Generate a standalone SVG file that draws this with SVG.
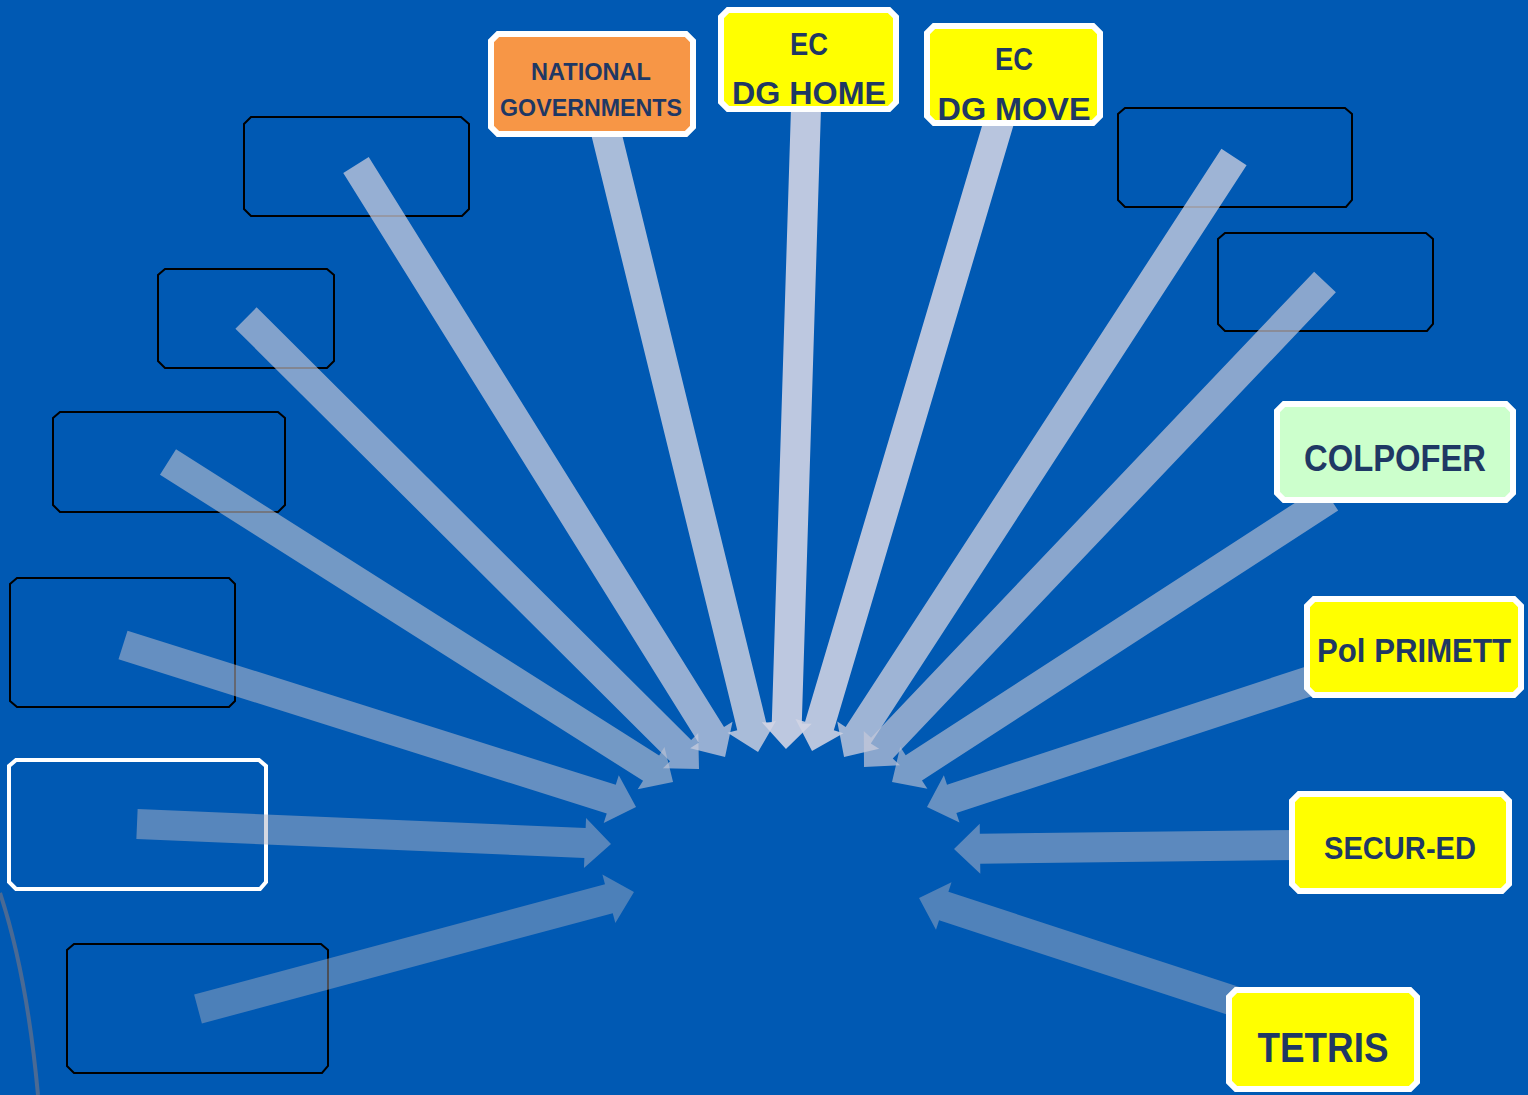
<svg xmlns="http://www.w3.org/2000/svg" width="1528" height="1095" viewBox="0 0 1528 1095">
<style>
.empty{fill:none;stroke:#000;stroke-width:2}
.emptyw{fill:none;stroke:#fff;stroke-width:4}
.lab{stroke:#fff;stroke-width:6}
.txt{font-family:"Liberation Sans",Arial,sans-serif;font-weight:bold;fill:#1F3864;text-anchor:middle}
</style>
<rect width="1528" height="1095" fill="#0059B3"/>
<path d="M0,893 Q27,975 38,1095" fill="none" stroke="#4A6A94" stroke-width="4"/>

<g id="empty-boxes">
<g id="box-l1"><path class="empty" d="M251,117 H461 L469,124 V209 L462,216 H251 L244,209 V124 Z"/></g>
<g id="box-l2"><path class="empty" d="M165,269 H327 L334,275 V361 L327,368 H165 L158,361 V275 Z"/></g>
<g id="box-l3"><path class="empty" d="M60,412 H278 L285,418 V505 L278,512 H60 L53,505 V418 Z"/></g>
<g id="box-l4"><path class="empty" d="M17,578 H229 L235,584 V701 L229,707 H17 L10,701 V584 Z"/></g>
<g id="box-l5"><path class="emptyw" d="M16,760 H259 L266,766 V882 L260,889 H16 L9,882 V766 Z"/></g>
<g id="box-l6"><path class="empty" d="M74,944 H321 L328,950 V1066 L322,1073 H74 L67,1066 V950 Z"/></g>
<g id="box-r1"><path class="empty" d="M1125,108 H1345 L1352,114 V200 L1346,207 H1125 L1118,200 V114 Z"/></g>
<g id="box-r2"><path class="empty" d="M1225,233 H1426 L1433,239 V324 L1427,331 H1225 L1218,324 V239 Z"/></g>
</g>

<g id="connectors">
<g transform="translate(198,1009) rotate(-15.02)" fill="#A9AFC0" fill-opacity="0.45"><path d="M0,-15 H425.4 V-25 L451.4,0 L425.4,25 V15 H0 Z"/></g>
<g transform="translate(137,824) rotate(2.42)" fill="#AEB4C6" fill-opacity="0.5"><path d="M0,-15 H448.4 V-25 L474.4,0 L448.4,25 V15 H0 Z"/></g>
<g transform="translate(123,645) rotate(17.52)" fill="#B4BACB" fill-opacity="0.56"><path d="M0,-15 H512 V-25 L538,0 L512,25 V15 H0 Z"/></g>
<g transform="translate(168,462) rotate(32.36)" fill="#BAC0D1" fill-opacity="0.62"><path d="M0,-15 H571.9 V-25 L597.9,0 L571.9,25 V15 H0 Z"/></g>
<g transform="translate(246,318) rotate(44.87)" fill="#C0C6D7" fill-opacity="0.68"><path d="M0,-15 H613.2 V-25 L639.2,0 L613.2,25 V15 H0 Z"/></g>
<g transform="translate(356,165) rotate(58.06)" fill="#C8CCDD" fill-opacity="0.75"><path d="M0,-15 H671.6 V-25 L697.6,0 L671.6,25 V15 H0 Z"/></g>
<g transform="translate(605,128) rotate(76.22)" fill="#CED2E2" fill-opacity="0.82"><path d="M0,-15 H616.5 V-25 L642.5,0 L616.5,25 V15 H0 Z"/></g>
<g transform="translate(806,108) rotate(91.79)" fill="#D2D4E4" fill-opacity="0.9"><path d="M0,-15 H615.3 V-25 L641.3,0 L615.3,25 V15 H0 Z"/></g>
<g transform="translate(1000,118) rotate(106.54)" fill="#D2D4E4" fill-opacity="0.88"><path d="M0,-15 H634.3 V-25 L660.3,0 L634.3,25 V15 H0 Z"/></g>
<g transform="translate(1234,157) rotate(123.02)" fill="#CACEDF" fill-opacity="0.78"><path d="M0,-15 H689.6 V-25 L715.6,0 L689.6,25 V15 H0 Z"/></g>
<g transform="translate(1325,282) rotate(133.55)" fill="#C4C8D9" fill-opacity="0.7"><path d="M0,-15 H643.1 V-25 L669.1,0 L643.1,25 V15 H0 Z"/></g>
<g transform="translate(1330,498) rotate(147.04)" fill="#BCC2D3" fill-opacity="0.64"><path d="M0,-15 H496 V-25 L522,0 L496,25 V15 H0 Z"/></g>
<g transform="translate(1310,681) rotate(161.79)" fill="#B6BCCD" fill-opacity="0.57"><path d="M0,-15 H377.2 V-25 L403.2,0 L377.2,25 V15 H0 Z"/></g>
<g transform="translate(1295,845) rotate(179.33)" fill="#B0B6C8" fill-opacity="0.52"><path d="M0,-15 H315 V-25 L341,0 L315,25 V15 H0 Z"/></g>
<g transform="translate(1240,1003) rotate(-161.89)" fill="#ABB1C2" fill-opacity="0.47"><path d="M0,-15 H311.7 V-25 L337.7,0 L311.7,25 V15 H0 Z"/></g>
</g>

<g id="node-national">
<path class="lab" fill="#F79646" d="M498,34 H686 L693,41 V127 L686,134 H498 L491,127 V41 Z"/>
<text class="txt" x="591" y="80" font-size="23" textLength="120" lengthAdjust="spacingAndGlyphs">NATIONAL</text>
<text class="txt" x="591" y="116" font-size="23" textLength="182" lengthAdjust="spacingAndGlyphs">GOVERNMENTS</text>
</g>
<g id="node-dghome">
<path class="lab" fill="#FFFF00" d="M728,10 H889 L896,17 V102 L889,109 H728 L721,102 V17 Z"/>
<text class="txt" x="809" y="55" font-size="31" textLength="38" lengthAdjust="spacingAndGlyphs">EC</text>
<text class="txt" x="809" y="104" font-size="31" textLength="154" lengthAdjust="spacingAndGlyphs">DG HOME</text>
</g>
<g id="node-dgmove">
<path class="lab" fill="#FFFF00" d="M934,26 H1093 L1100,33 V116 L1093,123 H934 L927,116 V33 Z"/>
<text class="txt" x="1014" y="70" font-size="31" textLength="38" lengthAdjust="spacingAndGlyphs">EC</text>
<text class="txt" x="1014" y="120" font-size="31" textLength="153" lengthAdjust="spacingAndGlyphs">DG MOVE</text>
</g>
<g id="node-colpofer">
<path class="lab" fill="#CCFFCC" d="M1284,404 H1506 L1513,411 V493 L1506,500 H1284 L1277,493 V411 Z"/>
<text class="txt" x="1395" y="471" font-size="37" textLength="182" lengthAdjust="spacingAndGlyphs">COLPOFER</text>
</g>
<g id="node-polprimett">
<path class="lab" fill="#FFFF00" d="M1314,599 H1514 L1521,606 V688 L1514,695 H1314 L1307,688 V606 Z"/>
<text class="txt" x="1414" y="662" font-size="33" textLength="194" lengthAdjust="spacingAndGlyphs">Pol PRIMETT</text>
</g>
<g id="node-secured">
<path class="lab" fill="#FFFF00" d="M1299,794 H1502 L1509,801 V884 L1502,891 H1299 L1292,884 V801 Z"/>
<text class="txt" x="1400" y="859" font-size="31" textLength="152" lengthAdjust="spacingAndGlyphs">SECUR-ED</text>
</g>
<g id="node-tetris">
<path class="lab" fill="#FFFF00" d="M1236,990 H1410 L1417,997 V1082 L1410,1089 H1236 L1229,1082 V997 Z"/>
<text class="txt" x="1323" y="1062" font-size="43" textLength="131" lengthAdjust="spacingAndGlyphs">TETRIS</text>
</g>
</svg>
